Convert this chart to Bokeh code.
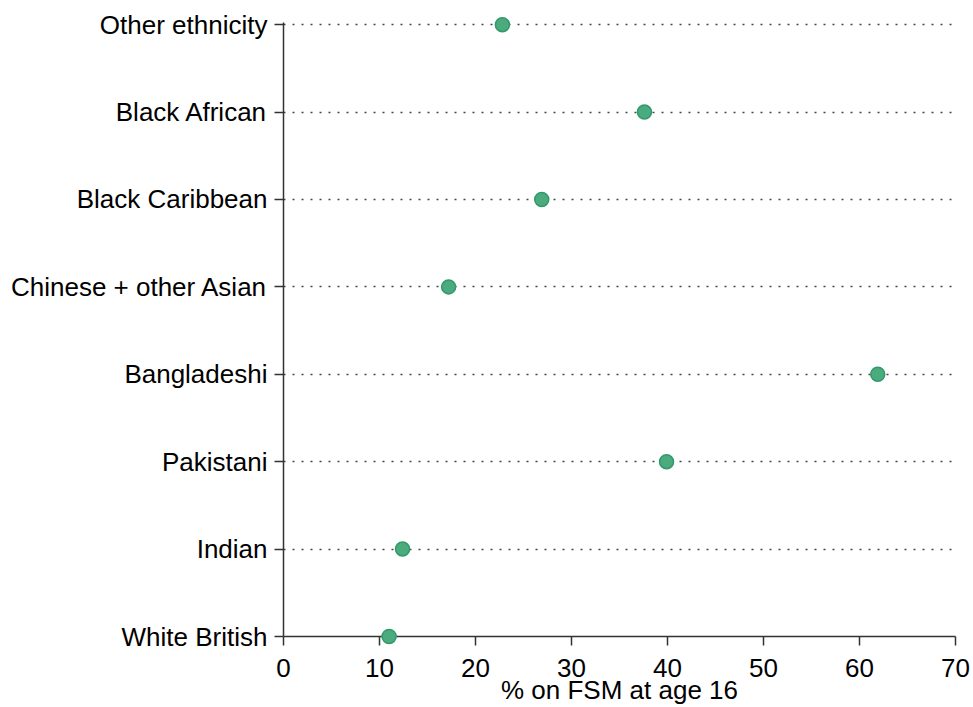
from bokeh.plotting import figure
from bokeh.models import Range1d, FixedTicker, ColumnDataSource
from bokeh.embed import file_html
from bokeh.resources import INLINE

categories = ["White British", "Indian", "Pakistani", "Bangladeshi",
              "Chinese + other Asian", "Black Caribbean", "Black African",
              "Other ethnicity"]
fsm_pct = [11.0, 12.4, 39.9, 61.9, 17.2, 26.9, 37.6, 22.8]
x_ticks = [0, 10, 20, 30, 40, 50, 60, 70]

positions = list(range(len(categories)))
src = ColumnDataSource(dict(x=fsm_pct, y=positions, cat=categories))

FONT = "Liberation Sans"

p = figure(width=973, height=707, output_backend="svg", toolbar_location=None,
           x_range=Range1d(0, 70), y_range=Range1d(0, len(categories) - 1 + 0.025),
           min_border_left=283, min_border_right=18, min_border_top=22,
           min_border_bottom=71)
p.outline_line_color = None
p.background_fill_color = "white"
p.border_fill_color = "white"

p.xgrid.visible = False
p.ygrid.grid_line_color = "#444444"
p.ygrid.grid_line_dash = "2 7"
p.ygrid.grid_line_width = 1.5

p.scatter("x", "y", source=src, size=14, fill_color="#4caa7f",
          line_color="#2f9a6a", line_width=1.5, level="overlay")

for ax in (p.xaxis[0], p.yaxis[0]):
    ax.axis_line_color = "#333333"
    ax.axis_line_width = 1.5
    ax.major_tick_line_color = "#333333"
    ax.major_tick_line_width = 1.5
    ax.major_tick_out = 9
    ax.major_tick_in = 0
    ax.minor_tick_line_color = None
    ax.major_label_text_font = FONT
    ax.major_label_text_font_size = "26px"
    ax.major_label_text_color = "black"

p.xaxis.ticker = FixedTicker(ticks=x_ticks)
p.xaxis.major_label_standoff = 13
p.xaxis.axis_label = "% on FSM at age 16"
p.xaxis.axis_label_text_font = FONT
p.xaxis.axis_label_text_font_size = "26px"
p.xaxis.axis_label_text_font_style = "normal"
p.xaxis.axis_label_text_color = "black"
p.xaxis.axis_label_standoff = -5

p.yaxis.ticker = FixedTicker(ticks=positions)
p.yaxis.major_label_overrides = {i: c for i, c in zip(positions, categories)}
p.yaxis.major_label_standoff = 7

open("out.html", "w").write(file_html(p, INLINE))
